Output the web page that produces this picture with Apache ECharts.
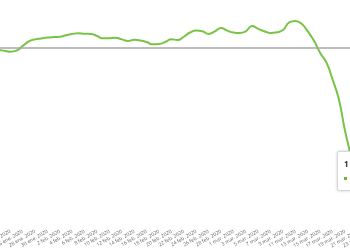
<!DOCTYPE html>
<html>
<head>
<meta charset="utf-8">
<script src="https://cdn.jsdelivr.net/npm/echarts@6/dist/echarts.min.js"></script>
<style>
html,body{margin:0;padding:0;overflow:hidden;background:#fff;width:350px;height:250px;}
#c{position:absolute;left:-60px;top:0;width:500px;height:250px;}
</style>
</head>
<body>
<div id="c"></div>
<script>
const categories = [
  "20 ene. 2020","21 ene. 2020","22 ene. 2020","23 ene. 2020","24 ene. 2020","25 ene. 2020",
  "26 ene. 2020","27 ene. 2020","28 ene. 2020","29 ene. 2020","30 ene. 2020","31 ene. 2020",
  "2 feb. 2020","3 feb. 2020","4 feb. 2020","5 feb. 2020","6 feb. 2020","7 feb. 2020",
  "8 feb. 2020","9 feb. 2020","10 feb. 2020","11 feb. 2020","12 feb. 2020","13 feb. 2020",
  "14 feb. 2020","15 feb. 2020","16 feb. 2020","17 feb. 2020","18 feb. 2020","19 feb. 2020",
  "20 feb. 2020","21 feb. 2020","22 feb. 2020","23 feb. 2020","24 feb. 2020","25 feb. 2020",
  "26 feb. 2020","27 feb. 2020","28 feb. 2020","29 feb. 2020",
  "1 mar. 2020","2 mar. 2020","3 mar. 2020","4 mar. 2020","5 mar. 2020","6 mar. 2020",
  "7 mar. 2020","8 mar. 2020","9 mar. 2020","10 mar. 2020","11 mar. 2020","12 mar. 2020",
  "13 mar. 2020","14 mar. 2020","15 mar. 2020","16 mar. 2020","17 mar. 2020","18 mar. 2020",
  "19 mar. 2020","20 mar. 2020","21 mar. 2020","22 mar. 2020","23 mar. 2020","24 mar. 2020",
  "25 mar. 2020","26 mar. 2020","27 mar. 2020","28 mar. 2020","29 mar. 2020","30 mar. 2020",
  "31 mar. 2020","1 abr. 2020"
];
const values = [
  -0.9,-1.0,-1.1,-1.5,-2.1,-1.5,
  1.1,3.8,4.9,5.4,5.9,6.2,
  6.4,7.2,8.0,8.4,8.1,8.0,
  6.8,5.5,5.6,5.8,4.9,4.0,
  4.7,4.3,3.4,2.1,2.3,3.4,
  5.0,4.5,6.4,8.8,9.9,9.5,
  8.0,9.4,11.4,9.9,
  8.8,8.5,9.5,12.5,10.9,9.5,
  8.5,8.9,10.2,14.5,15.3,13.8,
  9.4,4.1,-2.8,-8.2,-17.9,-29.0,
  -47,-62,-78,-84,-87,-88,
  -89,-89,-90,-89,-90,-90,
  -91,-90
];
const seriesName = "Movilidad";
const baseline = 0;
const yMin = -100, yMax = 25;
const tooltipIndex = categories.length - 1;

const chart = echarts.init(document.getElementById('c'), null, {renderer: 'canvas'});
chart.setOption({
  animation: false,
  grid: {left: 45.4, width: 440.2, top: 4, bottom: 26, containLabel: false},
  tooltip: {
    trigger: 'axis',
    axisPointer: {type: 'none'},
    alwaysShowContent: true,
    transitionDuration: 0,
    position: [396.5, 151],
    padding: [5, 6],
    backgroundColor: '#fff',
    borderColor: '#d8d8d8',
    borderWidth: 1,
    extraCssText: 'box-shadow:0 0 3px rgba(0,0,0,0.2);border-radius:2px;',
    formatter: function (ps) {
      const p = Array.isArray(ps) ? ps[0] : ps;
      return '<div style="font-family:Open Sans,sans-serif;font-size:8px;font-weight:bold;color:#333;line-height:14px">' + p.name + '</div>' +
        '<div style="font-family:Open Sans,sans-serif;font-size:8px;color:#555;line-height:14px">' +
        '<span style="display:inline-block;width:3px;height:3px;background:#6db33f;margin-right:8px;vertical-align:middle"></span>' +
        p.seriesName + ': ' + p.value + '</div>';
    }
  },
  xAxis: {
    type: 'category',
    data: categories,
    boundaryGap: false,
    axisLine: {show: false},
    axisTick: {show: false},
    splitLine: {show: false},
    axisLabel: {
      interval: 1,
      rotate: 30,
      margin: 7,
      fontSize: 5,
      color: '#666',
      fontFamily: 'Open Sans'
    }
  },
  yAxis: {
    type: 'value',
    min: yMin,
    max: yMax,
    show: false,
    splitLine: {show: false}
  },
  series: [{
    name: seriesName,
    type: 'line',
    data: values,
    smooth: true,
    showSymbol: false,
    symbol: 'none',
    lineStyle: {color: '#6db33f', width: 2},
    itemStyle: {color: '#6db33f'},
    markLine: {
      silent: true,
      symbol: 'none',
      label: {show: false},
      lineStyle: {color: '#a6a6a6', type: 'solid', width: 1.5},
      data: [{yAxis: baseline}]
    }
  }]
});
chart.dispatchAction({type: 'showTip', seriesIndex: 0, dataIndex: tooltipIndex});
</script>
</body>
</html>
